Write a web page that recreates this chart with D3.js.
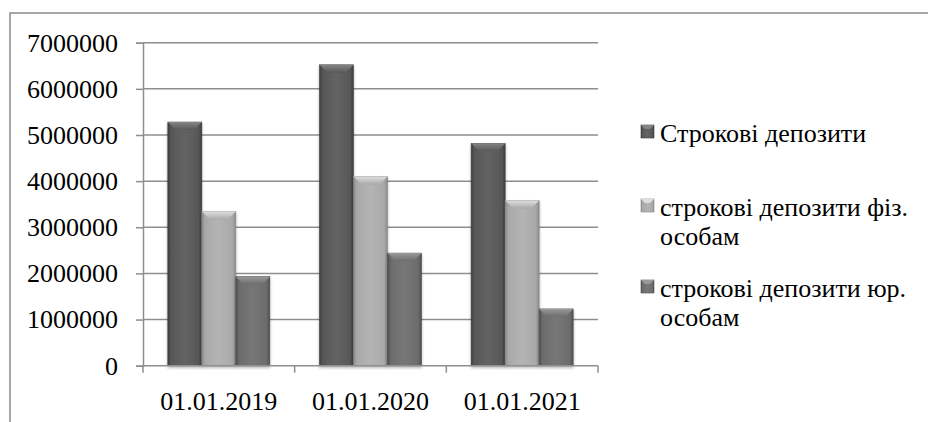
<!DOCTYPE html>
<html lang="uk">
<head>
<meta charset="utf-8">
<script src="https://cdn.jsdelivr.net/npm/d3@7"></script>
<style>
  html, body { margin: 0; padding: 0; background: #fff; }
  svg { display: block; }
</style>
</head>
<body>
<svg id="chart" width="928" height="422"></svg>
<script>
// Dates of the balance snapshots
const categories = ["01.01.2019", "01.01.2020", "01.01.2021"];
// Series names (legend lines split where the text wraps)
const seriesNames = [
  ["Строкові депозити"],
  ["строкові депозити фіз.", "особам"],
  ["строкові депозити юр.", "особам"]
];
// Values per series, one per date
const termDeposits = [5280000, 6520000, 4820000];
const termDepositsIndividuals = [3340000, 4100000, 3580000];
const termDepositsLegal = [1930000, 2440000, 1230000];
// Value axis ticks
const yTicks = [0, 1000000, 2000000, 3000000, 4000000, 5000000, 6000000, 7000000];

const seriesValues = [termDeposits, termDepositsIndividuals, termDepositsLegal];
const seriesColors = [
  { base: "#575757", light: "#636363", dark: "#3e3e3e", top: "#858585" },
  { base: "#a9a9a9", light: "#b4b4b4", dark: "#8a8a8a", top: "#dedede" },
  { base: "#6c6c6c", light: "#777777", dark: "#4f4f4f", top: "#999999" }
];

const serif = '"Liberation Serif"';
const svg = d3.select("#chart");
const defs = svg.append("defs");

const plot = { left: 143, right: 598, top: 42.7, bottom: 365.7 };
const fontSize = 26;
const gridColor = "#8e8e8e";

// Frame around the chart area (top and left edges visible)
svg.append("path")
  .attr("d", "M10,422 L10,13 L928,13")
  .attr("fill", "none")
  .attr("stroke", "#8a8a8a")
  .attr("stroke-width", 1.5);

const x0 = d3.scaleBand().domain(categories).range([plot.left, plot.right]).paddingInner(0).paddingOuter(0);
const x1 = d3.scaleBand().domain(d3.range(seriesValues.length)).range([0, x0.bandwidth()]).paddingOuter(0.73).paddingInner(0);
const y = d3.scaleLinear().domain([0, 7000000]).range([plot.bottom, plot.top]);

// Horizontal gridlines
svg.append("g")
  .selectAll("line")
  .data(yTicks.filter(d => d > 0))
  .join("line")
  .attr("x1", plot.left).attr("x2", plot.right)
  .attr("y1", d => y(d)).attr("y2", d => y(d))
  .attr("stroke", gridColor).attr("stroke-width", 1.5);

// Value axis
const yAxis = d3.axisLeft(y).tickValues(yTicks).tickSize(7).tickPadding(18).tickFormat(d3.format("d"));
const gy = svg.append("g").attr("transform", `translate(${plot.left},0)`).call(yAxis);
gy.select(".domain").attr("stroke", gridColor).attr("stroke-width", 1.5);
gy.selectAll(".tick line").attr("stroke", gridColor).attr("stroke-width", 1.5);
gy.selectAll(".tick text")
  .style("font-family", serif)
  .style("font-size", fontSize + "px")
  .attr("fill", "#000");

// Gradients for bevelled bars
seriesColors.forEach((c, i) => {
  const g = defs.append("linearGradient").attr("id", "body" + i).attr("x1", 0).attr("x2", 1).attr("y1", 0).attr("y2", 0);
  g.append("stop").attr("offset", "0").attr("stop-color", c.dark);
  g.append("stop").attr("offset", "0.1").attr("stop-color", c.base);
  g.append("stop").attr("offset", "0.5").attr("stop-color", c.light);
  g.append("stop").attr("offset", "0.9").attr("stop-color", c.base);
  g.append("stop").attr("offset", "1").attr("stop-color", c.dark);
  const t = defs.append("linearGradient").attr("id", "top" + i).attr("x1", 0).attr("x2", 0).attr("y1", 0).attr("y2", 1);
  t.append("stop").attr("offset", "0").attr("stop-color", c.top);
  t.append("stop").attr("offset", "1").attr("stop-color", c.base);
});
const shadow = defs.append("filter").attr("id", "shadow").attr("x", "-20%").attr("y", "-5%").attr("width", "140%").attr("height", "115%");
shadow.append("feGaussianBlur").attr("in", "SourceAlpha").attr("stdDeviation", 1.6);
shadow.append("feOffset").attr("dx", 0).attr("dy", 1.5).attr("result", "b");
shadow.append("feComponentTransfer").append("feFuncA").attr("type", "linear").attr("slope", 0.3);
const merge = shadow.append("feMerge");
merge.append("feMergeNode");
merge.append("feMergeNode").attr("in", "SourceGraphic");

// Bars
const barData = [];
categories.forEach((cat, ci) => {
  seriesValues.forEach((vals, si) => barData.push({ cat, si, value: vals[ci] }));
});

const bars = svg.append("g").selectAll("g.bar").data(barData).join("g").attr("class", "bar").attr("filter", "url(#shadow)");
bars.append("rect")
  .attr("x", d => x0(d.cat) + x1(d.si))
  .attr("y", d => y(d.value))
  .attr("width", x1.bandwidth())
  .attr("height", d => y(0) - y(d.value))
  .attr("fill", d => `url(#body${d.si})`)
  .attr("stroke", d => seriesColors[d.si].dark)
  .attr("stroke-width", 0.6);
const bev = 8;
bars.append("path")
  .attr("d", d => {
    const xl = x0(d.cat) + x1(d.si), xr = xl + x1.bandwidth(), yt = y(d.value);
    return `M${xl},${yt} L${xr},${yt} L${xr - bev},${yt + bev} L${xl + bev},${yt + bev} Z`;
  })
  .attr("fill", d => `url(#top${d.si})`);

// Category axis
const xAxis = d3.axisBottom(x0).tickSize(0).tickPadding(26);
const gx = svg.append("g").attr("transform", `translate(0,${plot.bottom})`).call(xAxis);
gx.select(".domain").remove();
gx.selectAll(".tick text")
  .style("font-family", serif)
  .style("font-size", fontSize + "px")
  .attr("fill", "#000");
svg.append("line")
  .attr("x1", plot.left).attr("x2", plot.right)
  .attr("y1", plot.bottom).attr("y2", plot.bottom)
  .attr("stroke", gridColor).attr("stroke-width", 1.5);
const boundaries = categories.map(c => x0(c)).concat([x0(categories[categories.length - 1]) + x0.bandwidth()]);
svg.append("g").selectAll("line").data(boundaries).join("line")
  .attr("x1", d => d).attr("x2", d => d)
  .attr("y1", plot.bottom).attr("y2", plot.bottom + 7)
  .attr("stroke", gridColor).attr("stroke-width", 1.5);

// Legend: one text element per wrapped line
const legendBaselines = [142, 216, 297];
const lineStep = 29;
const legendLines = [];
seriesNames.forEach((lines, i) => {
  lines.forEach((ln, k) => legendLines.push({ text: ln, y: legendBaselines[i] + k * lineStep }));
});
const legend = svg.append("g");
legend.selectAll("rect.marker").data(seriesColors).join("rect")
  .attr("class", "marker")
  .attr("x", 641).attr("y", (c, i) => legendBaselines[i] - 17).attr("width", 13).attr("height", 13)
  .attr("fill", (c, i) => `url(#body${i})`).attr("stroke", c => c.dark).attr("stroke-width", 0.6);
legend.selectAll("path.bevel").data(seriesColors).join("path")
  .attr("class", "bevel")
  .attr("d", (c, i) => {
    const t = legendBaselines[i] - 17;
    return `M641,${t} L654,${t} L650,${t + 4} L645,${t + 4} Z`;
  })
  .attr("fill", c => c.top);
legend.selectAll("text").data(legendLines).join("text")
  .attr("x", 660).attr("y", d => d.y)
  .style("font-family", serif)
  .style("font-size", fontSize + "px")
  .attr("fill", "#000")
  .text(d => d.text);
</script>
</body>
</html>
